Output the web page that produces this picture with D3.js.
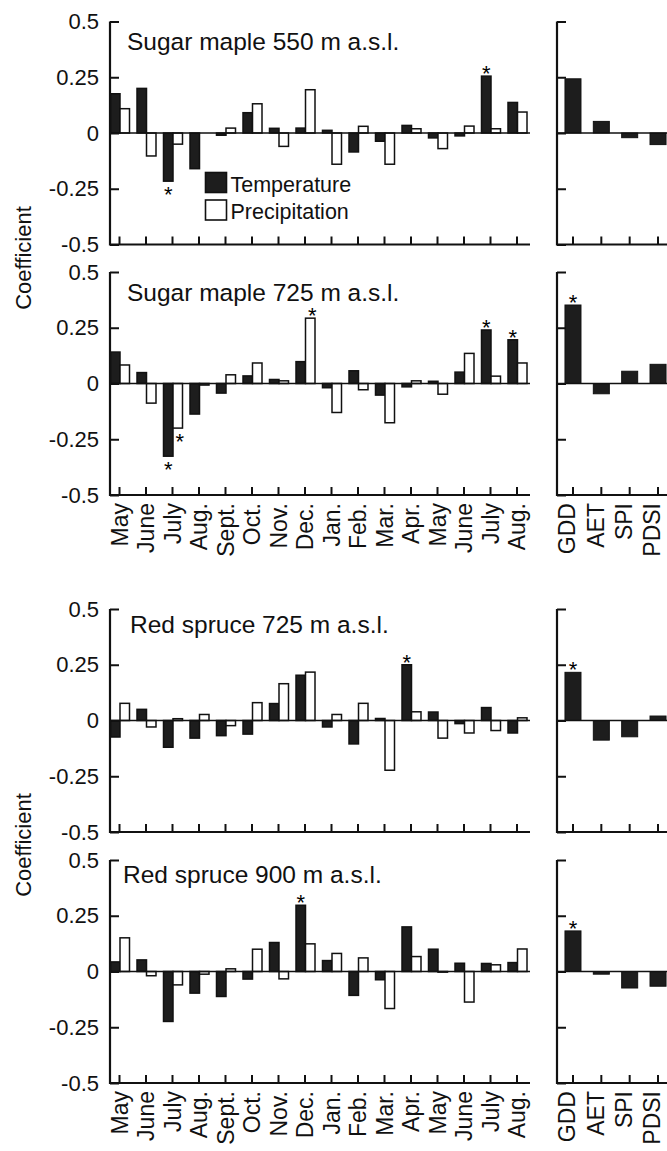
<!DOCTYPE html>
<html>
<head>
<meta charset="utf-8">
<script src="https://cdn.jsdelivr.net/npm/d3@7"></script>
<style>
  body { margin: 0; background: #fff; }
  svg { display: block; font-family: "Liberation Sans", Arial, Helvetica, sans-serif; }
</style>
</head>
<body>
<svg id="chart" width="667" height="1151"></svg>
<script>
const months = ['May', 'June', 'July', 'Aug.', 'Sept.', 'Oct.', 'Nov.', 'Dec.',
  'Jan.', 'Feb.', 'Mar.', 'Apr.', 'May', 'June', 'July', 'Aug.'];
const indices = ['GDD', 'AET', 'SPI', 'PDSI'];
const yTicks = [0.5, 0.25, 0, -0.25, -0.5];
const legendLabels = ['Temperature', 'Precipitation'];

const titles = [
  'Sugar maple 550 m a.s.l.',
  'Sugar maple 725 m a.s.l.',
  'Red spruce 725 m a.s.l.',
  'Red spruce 900 m a.s.l.'
];

// monthly response coefficients
const sm550Temp = [0.176, 0.20, -0.216, -0.16, -0.01, 0.091, 0.021, 0.022, 0.012, -0.085, -0.037, 0.034, -0.022, -0.013, 0.255, 0.137];
const sm550Precip = [0.109, -0.103, -0.05, 0, 0.022, 0.131, -0.06, 0.194, -0.14, 0.03, -0.14, 0.019, -0.07, 0.031, 0.019, 0.094];
const sm550Index = [0.243, 0.052, -0.021, -0.052];

const sm725Temp = [0.141, 0.049, -0.326, -0.137, -0.043, 0.034, 0.018, 0.098, -0.019, 0.057, -0.052, -0.015, 0.01, 0.051, 0.24, 0.196];
const sm725Precip = [0.083, -0.088, -0.2, -0.007, 0.039, 0.092, 0.012, 0.293, -0.13, -0.028, -0.176, 0.012, -0.048, 0.135, 0.033, 0.092];
const sm725Index = [0.352, -0.046, 0.055, 0.086];

const rs725Temp = [-0.074, 0.05, -0.12, -0.079, -0.068, -0.061, 0.076, 0.203, -0.029, -0.105, 0.009, 0.25, 0.038, -0.014, 0.058, -0.056];
const rs725Precip = [0.077, -0.029, 0.008, 0.027, -0.023, 0.08, 0.165, 0.217, 0.027, 0.077, -0.223, 0.039, -0.079, -0.056, -0.045, 0.012];
const rs725Index = [0.216, -0.088, -0.073, 0.02];

const rs900Temp = [0.043, 0.052, -0.224, -0.097, -0.112, -0.034, 0.13, 0.297, 0.049, -0.107, -0.037, 0.2, 0.1, 0.037, 0.036, 0.04];
const rs900Precip = [0.151, -0.019, -0.06, -0.012, 0.012, 0.1, -0.033, 0.124, 0.081, 0.061, -0.166, 0.067, -0.003, -0.137, 0.03, 0.101];
const rs900Index = [0.182, -0.012, -0.074, -0.066];

// significant coefficients (month / index positions marked with *)
const sm550SigTemp = [2, 14], sm550SigPrecip = [], sm550SigIndex = [];
const sm725SigTemp = [2, 14, 15], sm725SigPrecip = [2, 7], sm725SigIndex = [0];
const rs725SigTemp = [11], rs725SigPrecip = [], rs725SigIndex = [0];
const rs900SigTemp = [7], rs900SigPrecip = [], rs900SigIndex = [0];

const panels = [
  { title: titles[0], temp: sm550Temp, precip: sm550Precip, index: sm550Index,
    sigT: sm550SigTemp, sigP: sm550SigPrecip, sigI: sm550SigIndex, top: 21.5, labels: false, legend: true },
  { title: titles[1], temp: sm725Temp, precip: sm725Precip, index: sm725Index,
    sigT: sm725SigTemp, sigP: sm725SigPrecip, sigI: sm725SigIndex, top: 272, labels: true },
  { title: titles[2], temp: rs725Temp, precip: rs725Precip, index: rs725Index,
    sigT: rs725SigTemp, sigP: rs725SigPrecip, sigI: rs725SigIndex, top: 609, labels: false, titleX: 130, titleDy: 24 },
  { title: titles[3], temp: rs900Temp, precip: rs900Precip, index: rs900Index,
    sigT: rs900SigTemp, sigP: rs900SigPrecip, sigI: rs900SigIndex, top: 860, labels: true, titleX: 123, titleDy: 23 }
];

const svg = d3.select('#chart');
const panelH = 223;
const leftX0 = 110, leftX1 = 530;
const rightX0 = 557, rightX1 = 667;
const barDark = '#1d1d1d';

const xMonth = d3.scaleBand().domain(d3.range(months.length)).range([106.25, 530.25]);
const xSub = d3.scaleBand().domain(['T', 'P']).range([-9, 10]);
const xIdx = d3.scaleBand().domain(indices).range([558.8, 672.2]);
const idxBarW = 16;

function monthCenter(i) { return xMonth(i) + xMonth.bandwidth() / 2; }
function idxCenter(k) { return xIdx(k) + xIdx.bandwidth() / 2; }

function star(g, x, v, y) {
  // asterisk above positive bars, below negative ones
  const cy = v >= 0 ? y(v) - 7 : y(v) + 9;
  g.append('text')
    .attr('x', x)
    .attr('y', cy + 12)
    .attr('text-anchor', 'middle')
    .attr('font-size', 22)
    .text('*');
}

function styleAxis(g) {
  g.selectAll('.domain').remove();
  g.selectAll('.tick line').attr('stroke', '#111').attr('stroke-width', 2);
}

function drawPanel(p) {
  const y = d3.scaleLinear().domain([-0.5, 0.5]).range([p.top + panelH, p.top]);
  const g = svg.append('g');

  // ---- left: monthly temperature / precipitation ----
  const bars = g.append('g');
  const rows = [];
  months.forEach((m, i) => {
    rows.push({ i, key: 'T', v: p.temp[i] });
    rows.push({ i, key: 'P', v: p.precip[i] });
  });
  bars.selectAll('rect')
    .data(rows)
    .join('rect')
    .attr('x', d => monthCenter(d.i) + xSub(d.key))
    .attr('width', xSub.bandwidth())
    .attr('y', d => Math.min(y(d.v), y(0)))
    .attr('height', d => Math.abs(y(d.v) - y(0)))
    .attr('fill', d => d.key === 'T' ? barDark : '#fff')
    .attr('stroke', '#111')
    .attr('stroke-width', 1.5);

  p.sigT.forEach(i => star(g, monthCenter(i) + xSub('T') + xSub.bandwidth() / 2, p.temp[i], y));
  p.sigP.forEach(i => star(g, monthCenter(i) + xSub('P') + xSub.bandwidth() / 2 + 2, p.precip[i], y));

  // zero line
  g.append('line')
    .attr('x1', leftX0).attr('x2', leftX1)
    .attr('y1', y(0)).attr('y2', y(0))
    .attr('stroke', '#111').attr('stroke-width', 1.6);

  const yAxis = g.append('g')
    .attr('transform', `translate(${leftX0},0)`)
    .call(d3.axisLeft(y).tickValues(yTicks).tickSize(-9).tickPadding(11).tickFormat(d => String(d)));
  styleAxis(yAxis);
  yAxis.selectAll('text').attr('font-size', 22).attr('fill', '#111');

  const xAxis = g.append('g')
    .attr('transform', `translate(0,${y(-0.5)})`)
    .call(d3.axisBottom(xMonth).tickSize(-8).tickFormat(i => months[i]));
  styleAxis(xAxis);
  if (p.labels) {
    xAxis.selectAll('text')
      .attr('font-size', 23)
      .attr('fill', '#111')
      .attr('transform', 'rotate(-90)')
      .attr('text-anchor', 'end')
      .attr('x', -8)
      .attr('y', 0)
      .attr('dy', '0.36em');
  } else {
    xAxis.selectAll('text').remove();
  }

  // axis frame
  g.append('path')
    .attr('d', `M${leftX0},${y(0.5)}V${y(-0.5)}H${leftX1}`)
    .attr('fill', 'none').attr('stroke', '#111').attr('stroke-width', 2.2);

  g.append('text')
    .attr('x', p.titleX || 127)
    .attr('y', p.top + (p.titleDy || 28.5))
    .attr('font-size', 24.5)
    .attr('fill', '#111')
    .text(p.title);

  if (p.legend) {
    const lg = g.append('g').attr('transform', 'translate(205.5,172.5)');
    legendLabels.forEach((lab, k) => {
      lg.append('rect')
        .attr('x', 0).attr('y', k * 27.5)
        .attr('width', 21).attr('height', 20)
        .attr('fill', k === 0 ? barDark : '#fff')
        .attr('stroke', '#111').attr('stroke-width', 1.6);
      lg.append('text')
        .attr('x', 25).attr('y', k * 27.5 + 19)
        .attr('font-size', 21.5)
        .attr('fill', '#111')
        .text(lab);
    });
  }

  // ---- right: drought / growth indices ----
  const gr = g.append('g');
  gr.selectAll('rect')
    .data(indices.map((k, j) => ({ k, v: p.index[j] })))
    .join('rect')
    .attr('x', d => idxCenter(d.k) - idxBarW / 2)
    .attr('width', idxBarW)
    .attr('y', d => Math.min(y(d.v), y(0)))
    .attr('height', d => Math.abs(y(d.v) - y(0)))
    .attr('fill', barDark)
    .attr('stroke', '#111')
    .attr('stroke-width', 1);

  p.sigI.forEach(j => star(gr, idxCenter(indices[j]), p.index[j], y));

  gr.append('line')
    .attr('x1', rightX0).attr('x2', rightX1)
    .attr('y1', y(0)).attr('y2', y(0))
    .attr('stroke', '#111').attr('stroke-width', 1.6);

  const yAxisR = gr.append('g')
    .attr('transform', `translate(${rightX0},0)`)
    .call(d3.axisLeft(y).tickValues(yTicks).tickSize(-9).tickFormat(''));
  styleAxis(yAxisR);
  yAxisR.selectAll('text').remove();

  const xAxisR = gr.append('g')
    .attr('transform', `translate(0,${y(-0.5)})`)
    .call(d3.axisBottom(xIdx).tickSize(-8));
  styleAxis(xAxisR);
  if (p.labels) {
    // the index labels sit a little left of their ticks
    xAxisR.selectAll('text')
      .attr('font-size', 23)
      .attr('fill', '#111')
      .attr('transform', 'rotate(-90)')
      .attr('text-anchor', 'end')
      .attr('x', -8)
      .attr('y', -6)
      .attr('dy', '0.36em');
  } else {
    xAxisR.selectAll('text').remove();
  }

  gr.append('path')
    .attr('d', `M${rightX0},${y(0.5)}V${y(-0.5)}H${rightX1}`)
    .attr('fill', 'none').attr('stroke', '#111').attr('stroke-width', 2.2);
}

panels.forEach(drawPanel);

// shared y labels between the stacked panels
[258, 845].forEach(cy => {
  svg.append('text')
    .attr('transform', `translate(31,${cy}) rotate(-90)`)
    .attr('text-anchor', 'middle')
    .attr('font-size', 22)
    .attr('fill', '#111')
    .text('Coefficient');
});
</script>
</body>
</html>
